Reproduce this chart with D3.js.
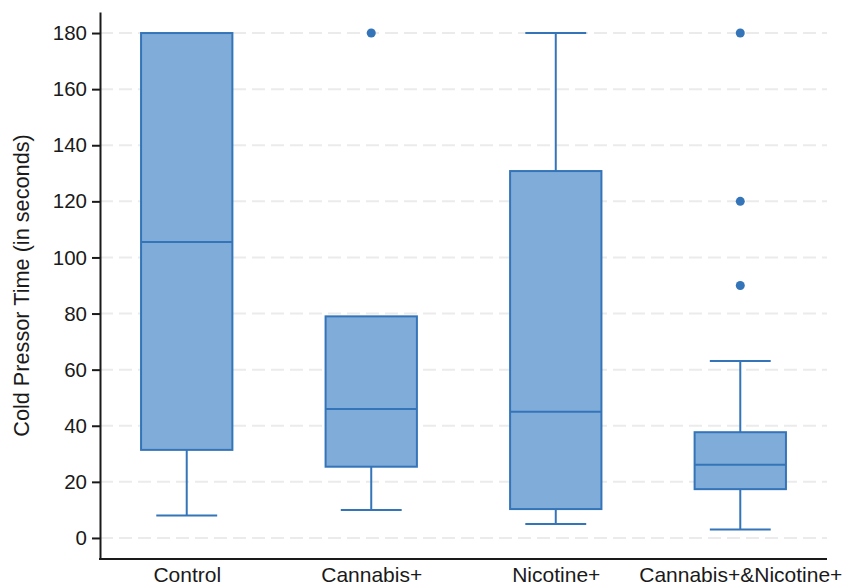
<!DOCTYPE html>
<html>
<head>
<meta charset="utf-8">
<script src="https://cdn.jsdelivr.net/npm/d3@7"></script>
<style>
  html, body { margin: 0; padding: 0; background: #fff; }
  svg { display: block; font-family: "Liberation Sans", Arial, Helvetica, sans-serif; }
</style>
</head>
<body>
<svg id="chart" width="846" height="587"></svg>
<script>
const categories = ["Control", "Cannabis+", "Nicotine+", "Cannabis+&Nicotine+"];
const lowerWhisker = [8, 10, 5, 3];
const q1Values     = [31.4, 25.4, 10.3, 17.4];
const medianValues = [105.5, 46, 45, 26.1];
const q3Values     = [180, 79, 130.8, 37.7];
const upperWhisker = [180, 79, 180, 63.1];
const outliers     = [[], [180], [], [180, 120, 90]];
const yTicks       = [0, 20, 40, 60, 80, 100, 120, 140, 160, 180];
const yLabel = "Cold Pressor Time (in seconds)";

const svg = d3.select("#chart");
const mLeft = 100, mRight = 827, mTop = 12, mBottom = 559;

const x = d3.scalePoint().domain(categories).range([mLeft, mRight]).padding(0.47);
const y = d3.scaleLinear().domain([-7.5, 187.5]).range([mBottom, mTop]);
const step = x.step();
const boxW = step * 0.495;
const capW = step * 0.33;

const strokeC = "#3474b8";
const fillC = "#80acd9";

// grid lines
svg.append("g").selectAll("line").data(yTicks).join("line")
  .attr("x1", mLeft).attr("x2", mRight)
  .attr("y1", d => y(d)).attr("y2", d => y(d))
  .attr("stroke", "#ebebeb").attr("stroke-width", 2)
  .attr("stroke-dasharray", "13,6");

const data = categories.map((c, i) => ({
  c, lo: lowerWhisker[i], q1: q1Values[i], med: medianValues[i],
  q3: q3Values[i], hi: upperWhisker[i], out: outliers[i]
}));

const g = svg.append("g");
data.forEach(d => {
  const cx = x(d.c);
  if (d.hi > d.q3) {
    g.append("line").attr("x1", cx).attr("x2", cx).attr("y1", y(d.q3)).attr("y2", y(d.hi))
      .attr("stroke", strokeC).attr("stroke-width", 2);
    g.append("line").attr("x1", cx - capW/2).attr("x2", cx + capW/2).attr("y1", y(d.hi)).attr("y2", y(d.hi))
      .attr("stroke", strokeC).attr("stroke-width", 2);
  }
  if (d.lo < d.q1) {
    g.append("line").attr("x1", cx).attr("x2", cx).attr("y1", y(d.q1)).attr("y2", y(d.lo))
      .attr("stroke", strokeC).attr("stroke-width", 2);
    g.append("line").attr("x1", cx - capW/2).attr("x2", cx + capW/2).attr("y1", y(d.lo)).attr("y2", y(d.lo))
      .attr("stroke", strokeC).attr("stroke-width", 2);
  }
  g.append("rect").attr("x", cx - boxW/2).attr("width", boxW)
    .attr("y", y(d.q3)).attr("height", y(d.q1) - y(d.q3))
    .attr("fill", fillC).attr("stroke", strokeC).attr("stroke-width", 2);
  g.append("line").attr("x1", cx - boxW/2).attr("x2", cx + boxW/2)
    .attr("y1", y(d.med)).attr("y2", y(d.med))
    .attr("stroke", strokeC).attr("stroke-width", 2);
  g.selectAll(null).data(d.out).join("circle")
    .attr("cx", cx).attr("cy", v => y(v)).attr("r", 4.5)
    .attr("fill", strokeC);
});

// y axis
const yAxis = svg.append("g").attr("transform", `translate(${mLeft},0)`)
  .call(d3.axisLeft(y).tickValues(yTicks).tickSize(8).tickPadding(5).tickSizeOuter(0));
yAxis.select(".domain").attr("stroke", "#1a1a1a").attr("stroke-width", 2);
yAxis.selectAll(".tick line").attr("stroke", "#1a1a1a").attr("stroke-width", 2);
yAxis.selectAll(".tick text").attr("fill", "#1a1a1a").style("font-size", "20.5px");

// x axis
const xAxis = svg.append("g").attr("transform", `translate(0,${mBottom})`)
  .call(d3.axisBottom(x).tickSize(0).tickPadding(8).tickSizeOuter(0));
xAxis.select(".domain").attr("stroke", "#1a1a1a").attr("stroke-width", 2)
  .attr("d", `M${mLeft - 1},0H${mRight}`);
xAxis.selectAll(".tick text").attr("fill", "#1a1a1a").style("font-size", "21px");

// y label
svg.append("text")
  .attr("transform", `translate(29,${(mTop + mBottom) / 2}) rotate(-90)`)
  .attr("text-anchor", "middle")
  .attr("fill", "#1a1a1a")
  .style("font-size", "21.7px")
  .text(yLabel);
</script>
</body>
</html>
